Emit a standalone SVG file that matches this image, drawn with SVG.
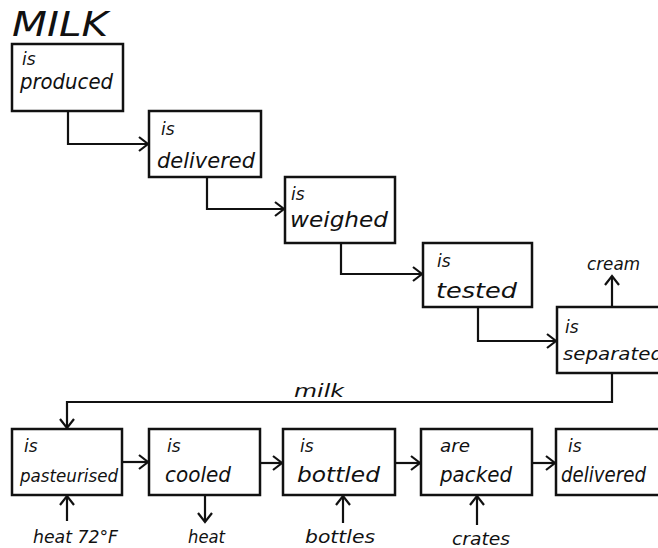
<svg xmlns="http://www.w3.org/2000/svg" width="658" height="548" viewBox="0 0 658 548">
<style>
.box{fill:#fff;stroke:#111;stroke-width:2.5}
.t{font-family:"DejaVu Sans","Liberation Sans",sans-serif;font-style:italic;fill:#111}
.b{font-size:21px}
.s{font-size:18px}
.i{font-size:17px}
.c{fill:none;stroke:#111;stroke-width:2.2}
</style>
<defs>
<marker id="ah" markerUnits="userSpaceOnUse" markerWidth="14" markerHeight="16" refX="11" refY="8" orient="auto">
<path d="M2,1 L11,8 L2,15" fill="none" stroke="#111" stroke-width="2.2"/>
</marker>
</defs>
<rect width="658" height="548" fill="#fff"/>
<text class="t" x="12" y="36" font-size="33" textLength="96" lengthAdjust="spacingAndGlyphs">MILK</text>
<g id="connectors">
<path class="c" d="M68,111 V144 H148" marker-end="url(#ah)"/>
<path class="c" d="M207,177 V209 H284" marker-end="url(#ah)"/>
<path class="c" d="M341,243 V274 H422" marker-end="url(#ah)"/>
<path class="c" d="M478,307 V341 H556" marker-end="url(#ah)"/>
<path class="c" d="M612,307 V276" marker-end="url(#ah)"/>
<path class="c" d="M612,373 V402 H67 V428" marker-end="url(#ah)"/>
<path class="c" d="M122,462 H148" marker-end="url(#ah)"/>
<path class="c" d="M260,463 H282" marker-end="url(#ah)"/>
<path class="c" d="M395,463 H420" marker-end="url(#ah)"/>
<path class="c" d="M532,463 H555" marker-end="url(#ah)"/>
<path class="c" d="M67,521 V496" marker-end="url(#ah)"/>
<path class="c" d="M205,495 V522" marker-end="url(#ah)"/>
<path class="c" d="M343,523 V496" marker-end="url(#ah)"/>
<path class="c" d="M477,525 V496" marker-end="url(#ah)"/>
<text class="t s" x="587" y="270" textLength="53" lengthAdjust="spacingAndGlyphs">cream</text>
<text class="t s" x="294" y="397" textLength="50" lengthAdjust="spacingAndGlyphs">milk</text>
<text class="t s" x="33" y="543" textLength="85" lengthAdjust="spacingAndGlyphs">heat 72°F</text>
<text class="t s" x="188" y="543" textLength="37" lengthAdjust="spacingAndGlyphs">heat</text>
<text class="t s" x="305" y="543" textLength="70" lengthAdjust="spacingAndGlyphs">bottles</text>
<text class="t s" x="452" y="545" textLength="58" lengthAdjust="spacingAndGlyphs">crates</text>
</g>
<g id="produced">
<rect class="box" x="12" y="44" width="111" height="67"/>
<text class="t i" x="22" y="65">is</text>
<text class="t b" x="20" y="89" textLength="93" lengthAdjust="spacingAndGlyphs">produced</text>
</g>
<g id="delivered1">
<rect class="box" x="149" y="111" width="112" height="66"/>
<text class="t i" x="161" y="135">is</text>
<text class="t b" x="157" y="168" textLength="98" lengthAdjust="spacingAndGlyphs">delivered</text>
</g>
<g id="weighed">
<rect class="box" x="285" y="177" width="110" height="66"/>
<text class="t i" x="291" y="200">is</text>
<text class="t b" x="290" y="227" textLength="98" lengthAdjust="spacingAndGlyphs">weighed</text>
</g>
<g id="tested">
<rect class="box" x="423" y="243" width="109" height="64"/>
<text class="t i" x="437" y="267">is</text>
<text class="t b" x="436" y="298" textLength="81" lengthAdjust="spacingAndGlyphs">tested</text>
</g>
<g id="separated">
<rect class="box" x="557" y="307" width="110" height="66"/>
<text class="t i" x="565" y="333">is</text>
<text class="t s" x="563" y="360" textLength="100" lengthAdjust="spacingAndGlyphs">separated</text>
</g>
<g id="pasteurised">
<rect class="box" x="12" y="429" width="110" height="66"/>
<text class="t i" x="24" y="452">is</text>
<text class="t s" x="20" y="482" textLength="98" lengthAdjust="spacingAndGlyphs">pasteurised</text>
</g>
<g id="cooled">
<rect class="box" x="149" y="429" width="111" height="66"/>
<text class="t i" x="167" y="452">is</text>
<text class="t b" x="165" y="482" textLength="66" lengthAdjust="spacingAndGlyphs">cooled</text>
</g>
<g id="bottled">
<rect class="box" x="283" y="429" width="112" height="66"/>
<text class="t i" x="300" y="452">is</text>
<text class="t b" x="297" y="482" textLength="83" lengthAdjust="spacingAndGlyphs">bottled</text>
</g>
<g id="packed">
<rect class="box" x="421" y="429" width="111" height="66"/>
<text class="t i" x="440" y="452" textLength="30" lengthAdjust="spacingAndGlyphs">are</text>
<text class="t b" x="440" y="482" textLength="72" lengthAdjust="spacingAndGlyphs">packed</text>
</g>
<g id="delivered2">
<rect class="box" x="556" y="429" width="112" height="66"/>
<text class="t i" x="568" y="452">is</text>
<text class="t b" x="561" y="482" font-size="20" textLength="85" lengthAdjust="spacingAndGlyphs">delivered</text>
</g>
</svg>
